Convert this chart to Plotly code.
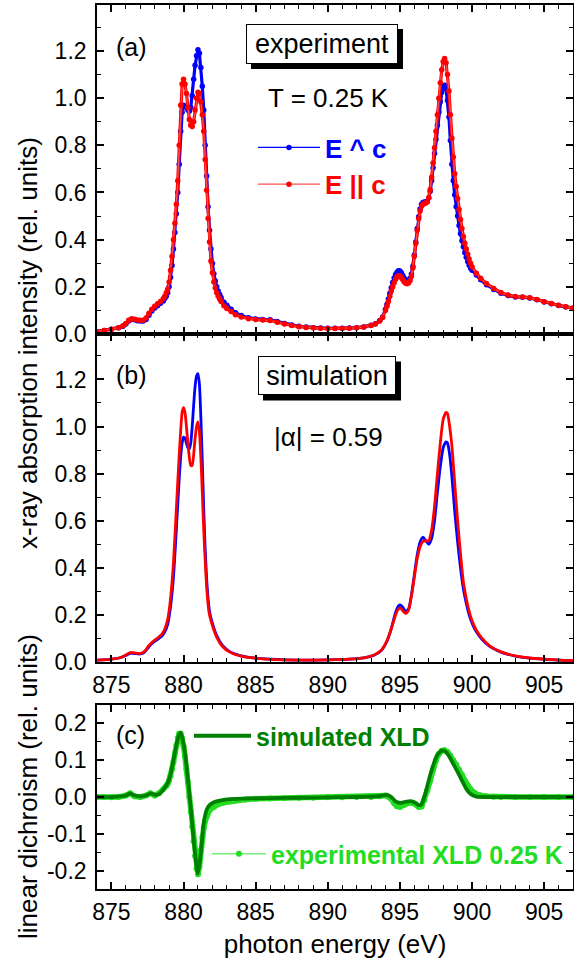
import plotly.graph_objects as go

# ---------------- data ----------------
exp_energy = [874.0, 874.5, 875.0, 875.5, 875.8, 876.0, 876.2, 876.4, 876.6, 876.8, 877.0, 877.2, 877.4, 877.6, 877.8, 878.0, 878.2, 878.4,
              878.6, 878.7, 878.8, 878.9, 879.0, 879.1, 879.2, 879.3, 879.4, 879.5, 879.6, 879.7, 879.8, 879.9,
              880.0, 880.1, 880.2, 880.3, 880.4, 880.5, 880.6, 880.7, 880.8, 880.9,
              881.0, 881.1, 881.2, 881.3, 881.4, 881.5, 881.6, 881.7, 881.8, 881.9,
              882.0, 882.1, 882.2, 882.3, 882.4, 882.5, 882.6,
              882.8, 883.0, 883.3, 883.6, 884.0, 884.5, 885.0, 885.5, 886.0, 886.5, 887.0, 887.5, 888.0, 888.5,
              889.0, 889.5, 890.0, 890.5, 891.0, 891.5, 892.0, 892.5, 893.0, 893.3, 893.6, 893.8,
              894.0, 894.1, 894.2, 894.3, 894.4, 894.5, 894.6, 894.7, 894.8, 894.9,
              895.0, 895.1, 895.2, 895.3, 895.4, 895.5, 895.6, 895.7, 895.8, 895.9,
              896.0, 896.1, 896.2, 896.3, 896.4, 896.5, 896.6, 896.7, 896.8, 896.9,
              897.0, 897.1, 897.2, 897.3, 897.4, 897.5, 897.6, 897.7, 897.8, 897.9,
              898.0, 898.1, 898.2, 898.3, 898.4, 898.5, 898.6, 898.7, 898.8, 898.9,
              899.0, 899.1, 899.2, 899.3, 899.4, 899.5, 899.6, 899.7, 899.8, 899.9,
              900.0, 900.3, 900.6, 901.0, 901.5, 902.0, 902.5, 903.0, 903.5, 904.0, 904.5, 905.0, 905.5, 906.0, 906.5, 907.0]

exp_perp = [0.010, 0.015, 0.020, 0.027, 0.033, 0.042, 0.055, 0.062, 0.060, 0.056, 0.055, 0.055, 0.062, 0.080, 0.097, 0.110, 0.120, 0.130,
            0.140, 0.150, 0.160, 0.175, 0.200, 0.240, 0.290, 0.360, 0.430, 0.510, 0.600, 0.720, 0.860, 0.940,
            0.970, 0.965, 0.960, 0.950, 0.945, 0.960, 1.010, 1.080, 1.140, 1.180,
            1.205, 1.190, 1.130, 1.050, 0.950, 0.800, 0.670, 0.540, 0.440, 0.360,
            0.300, 0.255, 0.225, 0.200, 0.182, 0.168, 0.155,
            0.135, 0.122, 0.105, 0.090, 0.078, 0.069, 0.064, 0.062, 0.060, 0.053, 0.045, 0.038, 0.033, 0.030,
            0.027, 0.025, 0.024, 0.024, 0.024, 0.025, 0.027, 0.030, 0.037, 0.043, 0.057, 0.072,
            0.105, 0.125, 0.148, 0.172, 0.196, 0.218, 0.237, 0.252, 0.262, 0.268,
            0.267, 0.260, 0.248, 0.236, 0.228, 0.225, 0.227, 0.236, 0.254, 0.287,
            0.335, 0.390, 0.447, 0.497, 0.530, 0.550, 0.558, 0.560, 0.560, 0.563,
            0.577, 0.605, 0.650, 0.705, 0.765, 0.825, 0.885, 0.940, 0.985, 1.025,
            1.048, 1.055, 1.040, 0.990, 0.920, 0.820, 0.720, 0.650, 0.590, 0.540,
            0.500, 0.460, 0.425, 0.395, 0.370, 0.345, 0.325, 0.307, 0.292, 0.280,
            0.270, 0.250, 0.230, 0.209, 0.189, 0.173, 0.163, 0.157, 0.156, 0.153, 0.145, 0.136, 0.128, 0.121, 0.115, 0.109]

exp_par = [0.010, 0.015, 0.020, 0.027, 0.035, 0.045, 0.058, 0.065, 0.063, 0.059, 0.058, 0.058, 0.068, 0.088, 0.105, 0.118, 0.128, 0.138,
           0.150, 0.160, 0.175, 0.190, 0.220, 0.270, 0.330, 0.400, 0.470, 0.550, 0.650, 0.800, 0.970, 1.060,
           1.080, 1.060, 1.020, 0.960, 0.910, 0.885, 0.880, 0.900, 0.950, 1.000,
           1.025, 1.020, 0.985, 0.930, 0.860, 0.740, 0.610, 0.490, 0.390, 0.310,
           0.260, 0.220, 0.195, 0.175, 0.160, 0.148, 0.138,
           0.120, 0.108, 0.095, 0.082, 0.072, 0.065, 0.061, 0.059, 0.057, 0.050, 0.042, 0.036, 0.031, 0.028,
           0.026, 0.024, 0.023, 0.023, 0.023, 0.024, 0.026, 0.030, 0.036, 0.042, 0.055, 0.070,
           0.100, 0.118, 0.138, 0.160, 0.182, 0.200, 0.217, 0.232, 0.242, 0.247,
           0.247, 0.240, 0.230, 0.221, 0.215, 0.213, 0.216, 0.226, 0.245, 0.280,
           0.330, 0.385, 0.440, 0.490, 0.522, 0.542, 0.550, 0.553, 0.555, 0.560,
           0.578, 0.612, 0.665, 0.725, 0.790, 0.860, 0.930, 1.000, 1.065, 1.120,
           1.155, 1.168, 1.150, 1.100, 1.030, 0.930, 0.830, 0.750, 0.680, 0.625,
           0.575, 0.528, 0.485, 0.447, 0.413, 0.385, 0.360, 0.338, 0.318, 0.300,
           0.285, 0.258, 0.236, 0.214, 0.193, 0.176, 0.165, 0.159, 0.157, 0.154, 0.146, 0.137, 0.129, 0.122, 0.116, 0.110]

sim_energy = [874.0, 875.0, 875.6, 876.0, 876.3, 876.6, 877.0, 877.3, 877.6, 877.9, 878.2, 878.5, 878.7, 878.9, 879.1, 879.3,
              879.5, 879.7, 879.8, 879.9, 880.0, 880.1, 880.2, 880.3, 880.4, 880.5, 880.6, 880.7, 880.8, 880.9, 881.0,
              881.1, 881.2, 881.3, 881.4, 881.5, 881.6, 881.7, 881.8, 882.0, 882.3, 882.7, 883.2, 884.0, 885.0, 886.0,
              888.0, 890.0, 891.5, 892.5, 893.2, 893.7, 894.1, 894.4, 894.7, 894.9, 895.05, 895.2, 895.4, 895.6, 895.8,
              896.0, 896.2, 896.4, 896.6, 896.8, 897.0, 897.2, 897.4, 897.6, 897.8, 898.0, 898.2, 898.3, 898.45, 898.6,
              898.8, 899.0, 899.2, 899.4, 899.6, 899.8, 900.0, 900.3, 900.7, 901.2, 902.0, 903.0, 904.0, 905.0, 906.0, 907.0]

sim_perp = [0.008, 0.012, 0.018, 0.028, 0.037, 0.036, 0.034, 0.042, 0.065, 0.083, 0.096, 0.110, 0.128, 0.160, 0.235, 0.360,
            0.560, 0.780, 0.870, 0.930, 0.955, 0.950, 0.930, 0.910, 0.905, 0.930, 1.000, 1.090, 1.170, 1.215, 1.225,
            1.180, 1.040, 0.850, 0.650, 0.480, 0.355, 0.270, 0.215, 0.165, 0.112, 0.070, 0.044, 0.026, 0.016, 0.012,
            0.008, 0.009, 0.012, 0.018, 0.029, 0.048, 0.088, 0.142, 0.210, 0.238, 0.242, 0.232, 0.215, 0.225, 0.285,
            0.370, 0.455, 0.510, 0.530, 0.515, 0.500, 0.525, 0.600, 0.720, 0.830, 0.910, 0.935, 0.930, 0.880, 0.790,
            0.640, 0.510, 0.400, 0.310, 0.250, 0.200, 0.165, 0.128, 0.095, 0.067, 0.042, 0.025, 0.016, 0.011, 0.008, 0.006]

sim_par = [0.008, 0.012, 0.018, 0.030, 0.040, 0.039, 0.036, 0.045, 0.070, 0.088, 0.102, 0.118, 0.140, 0.180, 0.270, 0.420,
           0.650, 0.880, 0.980, 1.060, 1.080, 1.060, 1.000, 0.930, 0.870, 0.835, 0.835, 0.880, 0.950, 1.000, 1.020,
           0.980, 0.870, 0.720, 0.560, 0.430, 0.320, 0.245, 0.200, 0.155, 0.105, 0.066, 0.042, 0.025, 0.016, 0.011,
           0.008, 0.009, 0.012, 0.018, 0.030, 0.050, 0.090, 0.140, 0.200, 0.225, 0.228, 0.218, 0.206, 0.220, 0.280,
           0.360, 0.440, 0.490, 0.512, 0.515, 0.515, 0.560, 0.660, 0.800, 0.930, 1.030, 1.060, 1.055, 1.000, 0.920,
           0.760, 0.600, 0.460, 0.340, 0.270, 0.215, 0.175, 0.135, 0.100, 0.070, 0.043, 0.026, 0.017, 0.012, 0.008, 0.006]

xld_sim_energy = [874.0, 875.0, 876.0, 876.3, 876.6, 877.0, 877.4, 877.7, 878.0, 878.3,
                  878.6, 878.9, 879.1, 879.3, 879.5, 879.65, 879.8, 879.95, 880.1, 880.25,
                  880.4, 880.55, 880.7, 880.85, 880.97, 881.1, 881.25, 881.4, 881.6, 881.8,
                  882.1, 882.6, 883.2, 884.5, 886.0, 888.0, 890.0, 892.0, 893.5, 894.1,
                  894.4, 894.7, 895.0, 895.3, 895.7, 896.0, 896.3, 896.5, 896.75, 897.0,
                  897.3, 897.6, 897.9, 898.1, 898.4, 898.7, 899.0, 899.3, 899.6, 899.9,
                  900.3, 901.0, 903.0, 905.0, 907.0]
xld_sim = [0.0, 0.0, 0.004, 0.010, 0.004, 0.002, 0.004, 0.010, 0.006, 0.008,
           0.020, 0.038, 0.062, 0.100, 0.140, 0.165, 0.175, 0.155, 0.120, 0.070,
           0.010, -0.050, -0.115, -0.175, -0.208, -0.185, -0.130, -0.070, -0.035, -0.022,
           -0.014, -0.009, -0.006, -0.004, -0.003, -0.002, -0.001, 0.0, 0.002, 0.006,
           0.0, -0.012, -0.016, -0.014, -0.011, -0.014, -0.022, -0.020, 0.008, 0.045,
           0.085, 0.115, 0.126, 0.125, 0.112, 0.090, 0.068, 0.045, 0.022, 0.008,
           0.001, 0.0, 0.0, 0.0, 0.0]

xld_exp_energy = [874.0, 874.5, 875.0, 875.5, 876.0, 876.3, 876.6, 877.0, 877.4, 877.7, 878.0, 878.3, 878.6,
                  878.8, 878.9, 879.0, 879.1, 879.2, 879.3, 879.4, 879.5, 879.6, 879.7, 879.8, 879.9,
                  880.0, 880.1, 880.2, 880.3, 880.4, 880.5, 880.6, 880.7, 880.8, 880.9,
                  881.0, 881.1, 881.2, 881.3, 881.4, 881.5, 881.6, 881.7, 881.8,
                  882.1, 882.4, 882.8, 883.2, 883.7, 884.3, 885.0, 886.0, 887.0, 888.0, 889.0, 890.0, 891.0, 892.0, 893.0,
                  893.6, 894.0, 894.3, 894.6, 894.8, 895.0, 895.3, 895.6, 895.9, 896.1, 896.3, 896.5, 896.7, 896.9,
                  897.1, 897.3, 897.5, 897.7, 897.9, 898.1, 898.3, 898.5, 898.7, 898.9, 899.1, 899.3, 899.5, 899.7, 899.9,
                  900.2, 900.6, 901.0, 901.5, 902.0, 903.0, 904.0, 905.0, 906.0, 907.0]
xld_exp = [0.0, 0.0, -0.001, 0.0, 0.004, 0.010, 0.002, 0.0, 0.004, 0.010, 0.004, 0.010, 0.022,
           0.030, 0.036, 0.045, 0.058, 0.075, 0.095, 0.118, 0.140, 0.160, 0.172, 0.172, 0.160,
           0.138, 0.110, 0.075, 0.040, 0.0, -0.040, -0.080, -0.120, -0.160, -0.195,
           -0.210, -0.190, -0.145, -0.110, -0.085, -0.065, -0.052, -0.043, -0.036,
           -0.027, -0.020, -0.015, -0.012, -0.009, -0.007, -0.005, -0.004, -0.003, -0.002, -0.002, -0.001, -0.001, 0.0, 0.0,
           0.002, 0.004, -0.002, -0.018, -0.025, -0.027, -0.021, -0.016, -0.016, -0.020, -0.027, -0.026, -0.008, 0.018,
           0.045, 0.075, 0.100, 0.117, 0.126, 0.127, 0.122, 0.112, 0.100, 0.088, 0.074, 0.060, 0.045, 0.032, 0.021,
           0.010, 0.004, 0.002, 0.001, 0.0, 0.0, 0.0, 0.0, 0.0, 0.0]

x_ticks = [875, 880, 885, 890, 895, 900, 905]
y_ticks_ab = [0.0, 0.2, 0.4, 0.6, 0.8, 1.0, 1.2]
y_ticks_c = [-0.2, -0.1, 0.0, 0.1, 0.2]
y_ticktext_c = ["-0.2", "-0.1", "0.0", "0.1", "0.2"]

# ---------------- styling / layout ----------------
FONT = "Liberation Sans, Arial, sans-serif"
BLUE, RED = "#0000FF", "#FF0000"
DKGREEN, LTGREEN = "#008000", "#22DD22"
W, H = 574, 966
L, R, T, B = 97, 1, 5, 77
PW, PH = W - L - R, H - T - B


def px(x):
    return (x - L) / PW


def py(y):
    return (H - B - y) / PH


fig = go.Figure()

# panel (a) experiment
fig.add_trace(go.Scatter(x=exp_energy, y=exp_perp, xaxis="x", yaxis="y", mode="lines",
                         line=dict(color=BLUE, width=3.2), showlegend=False, hoverinfo="skip"))
fig.add_trace(go.Scatter(x=exp_energy, y=exp_perp, xaxis="x", yaxis="y", mode="lines+markers",
                         line=dict(color=BLUE, width=1.2), marker=dict(color=BLUE, size=5.5),
                         name="<span style='color:#0000FF'>E ^ c</span>", legend="legend"))
fig.add_trace(go.Scatter(x=exp_energy, y=exp_par, xaxis="x", yaxis="y", mode="lines",
                         line=dict(color=RED, width=3.2), showlegend=False, hoverinfo="skip"))
fig.add_trace(go.Scatter(x=exp_energy, y=exp_par, xaxis="x", yaxis="y", mode="lines+markers",
                         line=dict(color="#FF5050", width=1.2), marker=dict(color=RED, size=5.5),
                         name="<span style='color:#FF0000'>E || c</span>", legend="legend"))

# panel (b) simulation
fig.add_trace(go.Scatter(x=sim_energy, y=sim_perp, xaxis="x2", yaxis="y2", mode="lines",
                         line=dict(color=BLUE, width=2.8, shape="spline", smoothing=0.6), showlegend=False))
fig.add_trace(go.Scatter(x=sim_energy, y=sim_par, xaxis="x2", yaxis="y2", mode="lines",
                         line=dict(color=RED, width=2.8, shape="spline", smoothing=0.6), showlegend=False))

# panel (c) XLD
fig.add_trace(go.Scatter(x=xld_exp_energy, y=xld_exp, xaxis="x3", yaxis="y3", mode="lines",
                         line=dict(color=LTGREEN, width=5.5), showlegend=False, hoverinfo="skip"))
fig.add_trace(go.Scatter(x=xld_exp_energy, y=xld_exp, xaxis="x3", yaxis="y3", mode="lines+markers",
                         line=dict(color="#77EE77", width=1.5), marker=dict(color=LTGREEN, size=6),
                         name="experimental XLD 0.25 K", legend="legend3"))
fig.add_trace(go.Scatter(x=xld_sim_energy, y=xld_sim, xaxis="x3", yaxis="y3", mode="lines",
                         line=dict(color=DKGREEN, width=3.8, shape="spline", smoothing=0.5),
                         name="simulated XLD", legend="legend2"))

xrange = [874.0, 907.0]
axis_common = dict(showline=True, linecolor="black", linewidth=1.6, mirror="ticks", ticks="inside",
                   ticklen=7, tickwidth=1.5, tickcolor="black", showgrid=False, zeroline=False,
                   tickfont=dict(family=FONT, size=23, color="black"))

xa = dict(axis_common, range=xrange, tickvals=x_ticks, domain=[0, 1],
          minor=dict(ticks="inside", ticklen=4, tickwidth=1.2, dtick=1, tick0=875, tickcolor="black", showgrid=False))

dom_a = [py(334), 1.0]
dom_b = [py(662), py(334)]
dom_c = [0.0, py(705)]

ya_minor = dict(ticks="inside", ticklen=4, tickwidth=1.2, dtick=0.1, tick0=0, tickcolor="black", showgrid=False)

fig.update_layout(
    width=W, height=H, margin=dict(l=L, r=R, t=T, b=B, autoexpand=False),
    paper_bgcolor="white", plot_bgcolor="white",
    font=dict(family=FONT, size=23, color="black"),
    xaxis=dict(xa, anchor="y", showticklabels=False),
    yaxis=dict(axis_common, anchor="x", domain=dom_a, range=[0, 1.395], tickvals=y_ticks_ab,
               tickformat=".1f", minor=ya_minor, ticklabelstandoff=4),
    xaxis2=dict(xa, anchor="y2", ticklabelstandoff=2),
    yaxis2=dict(axis_common, anchor="x2", domain=dom_b, range=[0, 1.393], tickvals=y_ticks_ab,
                tickformat=".1f", minor=ya_minor, ticklabelstandoff=4),
    xaxis3=dict(xa, anchor="y3", ticklabelstandoff=2,
                title=dict(text="photon energy (eV)", font=dict(family=FONT, size=26), standoff=10)),
    yaxis3=dict(axis_common, anchor="x3", domain=dom_c, range=[-0.25, 0.25], tickvals=y_ticks_c,
                ticktext=y_ticktext_c, minor=dict(ya_minor, dtick=0.05, tick0=0), ticklabelstandoff=4),
    legend=dict(x=px(253), y=py(166), xanchor="left", yanchor="middle", bgcolor="rgba(0,0,0,0)",
                itemwidth=62, font=dict(family=FONT, size=26, weight="bold"), tracegroupgap=0),
    legend2=dict(x=px(189), y=py(736), xanchor="left", yanchor="middle", bgcolor="rgba(0,0,0,0)",
                 itemwidth=57, font=dict(family=FONT, size=25, weight="bold", color=DKGREEN)),
    legend3=dict(x=px(207), y=py(854), xanchor="left", yanchor="middle", bgcolor="rgba(0,0,0,0)",
                 itemwidth=54, font=dict(family=FONT, size=25, weight="bold", color=LTGREEN)),
    showlegend=True,
)

ann = []
shapes = []


def text_at(x, y, s, size=25, **kw):
    d = dict(x=px(x), y=py(y), xref="paper", yref="paper", text=s, showarrow=False,
             xanchor="center", yanchor="middle", font=dict(family=FONT, size=size, color="black"))
    d.update(kw)
    ann.append(d)


def box_at(x, y, s, w, h, off=5):
    # drop shadow (a filled rectangle offset down-right), then the framed label on top
    hw, hh = w / 2 + 1, h / 2 + 1
    shapes.append(dict(type="rect", xref="paper", yref="paper",
                       x0=px(x - hw + off), x1=px(x + hw + off), y0=py(y + hh + off), y1=py(y - hh + off),
                       fillcolor="black", line=dict(width=0), layer="above"))
    ann.append(dict(x=px(x), y=py(y), xref="paper", yref="paper", text=s, showarrow=False,
                    xanchor="center", yanchor="middle", width=w, height=h, borderpad=0, borderwidth=1,
                    font=dict(family=FONT, size=27, color="black"), bgcolor="white", bordercolor="black"))


text_at(131, 47, "(a)")
text_at(131, 375, "(b)")
text_at(130, 735, "(c)")
text_at(328, 98, "T = 0.25 K", size=26)
text_at(328, 437, "|α| = 0.59", size=26)
box_at(322, 44, "experiment", 150, 38)
box_at(327, 376, "simulation", 136, 37)
text_at(28, 343, "x-ray absorption intensity (rel. units)", size=26, textangle=-90)
text_at(28, 787, "linear dichroism (rel. units)", size=26, textangle=-90)

fig.update_layout(annotations=ann, shapes=shapes)
fig.write_html("out.html", config={"displayModeBar": False},
               post_script="document.body.style.margin='0';document.body.style.padding='0';"
                           "document.body.style.overflow='hidden';")
